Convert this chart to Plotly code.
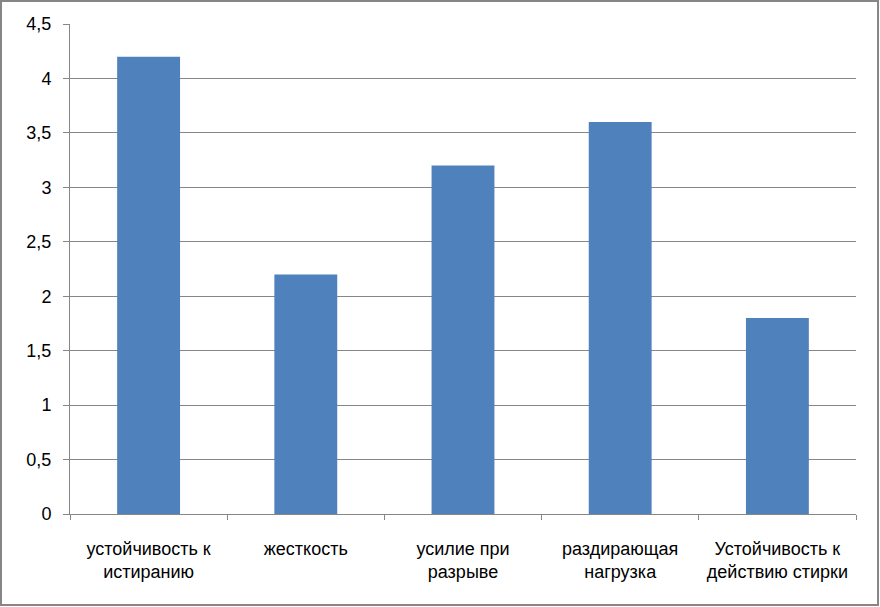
import plotly.graph_objects as go

categories = ["устойчивость к<br>истиранию", "жесткость", "усилие при<br>разрыве",
              "раздирающая<br>нагрузка", "Устойчивость к<br>действию стирки"]
values = [4.2, 2.2, 3.2, 3.6, 1.8]
y_ticks = [0, 0.5, 1, 1.5, 2, 2.5, 3, 3.5, 4, 4.5]

W, H = 880, 607
L, R, T, B = 70, 24, 24, 93
pw, ph = W - L - R, H - T - B

fig = go.Figure(go.Bar(x=categories, y=values, marker_color="#4F81BD",
                       marker_line_width=0, width=0.4))

gray = "#868686"
fig.update_layout(
    width=W, height=H,
    margin=dict(l=L, r=R, t=T, b=B, pad=0),
    paper_bgcolor="white", plot_bgcolor="white",
    separators=", ",
    font=dict(family="Liberation Sans", size=18, color="black"),
    showlegend=False,
)
fig.update_yaxes(range=[0, 4.5], tickvals=y_ticks, tickformat=".1~f",
                 showgrid=True, gridcolor=gray, gridwidth=1,
                 showline=True, linecolor=gray, linewidth=1,
                 ticks="outside", ticklen=6, tickcolor=gray,
                 ticklabelstandoff=8, zeroline=False, fixedrange=True)
fig.update_xaxes(showline=True, linecolor=gray, linewidth=1,
                 ticks="outside", ticklen=5, tickcolor=gray,
                 tickson="boundaries", ticklabelstandoff=18,
                 showgrid=False, fixedrange=True)
fig.add_shape(type="rect", xref="paper", yref="paper",
              x0=(1 - L) / pw, x1=(878 - L) / pw,
              y0=(H - B - 605) / ph, y1=(H - B - 1) / ph,
              line=dict(color=gray, width=2), fillcolor="rgba(0,0,0,0)", layer="above")

fig.write_html("out.html", config={"displayModeBar": False},
               post_script="document.body.style.margin='0';document.body.style.overflow='hidden';")
